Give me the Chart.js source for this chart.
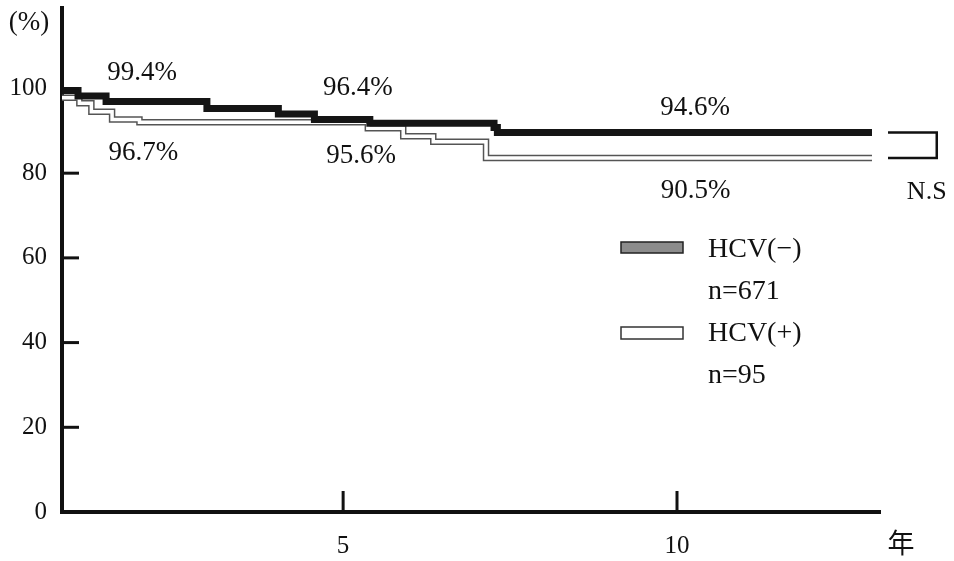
<!DOCTYPE html>
<html>
<head>
<meta charset="utf-8">
<script src="https://cdn.jsdelivr.net/npm/chart.js@4"></script>
<style>
  html, body { margin: 0; padding: 0; background: #fff; }
  #wrap { width: 954px; height: 561px; }
</style>
</head>
<body>
<div id="wrap"><canvas id="grafik" width="954" height="561"></canvas></div>
<script>
// survival curves (year, %)
const negTimes = [0.79, 1.03, 1.45, 2.96, 4.03, 4.57, 5.40, 7.26, 7.31, 12.92];
const negSurv  = [99.5, 98.2, 96.9, 95.3, 94.0, 92.7, 91.8, 90.8, 89.6, 89.6];
const posTimes = [0.79, 1.05, 1.23, 1.54, 1.95, 5.37, 5.90, 6.35, 7.14, 12.92];
const posSurv  = [97.8, 96.5, 94.5, 92.7, 92.0, 90.6, 88.7, 87.4, 83.6, 83.6];

const yTicks = [0, 20, 40, 60, 80, 100];
const xTicks = [5, 10];

const rateLabels = ['99.4%', '96.7%', '96.4%', '95.6%', '94.6%', '90.5%'];
const rateAt = [[1.99, 103.9], [2.01, 85.0], [5.22, 100.4], [5.27, 84.3], [10.27, 95.6], [10.28, 76.0]];

const serif = '"Liberation Serif", "DejaVu Serif", serif';

function pts(xs, ys) {
  return xs.map((x, i) => ({ x: x, y: ys[i] }));
}

// tick marks drawn inward + texts, bracket and legend
const extras = {
  id: 'extras',
  afterDraw(chart) {
    const ctx = chart.ctx;
    const xs = chart.scales.x, ys = chart.scales.y;
    const area = chart.chartArea;
    ctx.save();
    ctx.strokeStyle = '#111';
    ctx.lineWidth = 3;
    yTicks.forEach(v => {
      if (v === 0) return;
      const py = ys.getPixelForValue(v);
      ctx.beginPath(); ctx.moveTo(area.left, py); ctx.lineTo(area.left + 17, py); ctx.stroke();
    });
    xTicks.forEach(v => {
      const px = xs.getPixelForValue(v);
      ctx.beginPath(); ctx.moveTo(px, area.bottom); ctx.lineTo(px, area.bottom - 21); ctx.stroke();
    });

    ctx.fillStyle = '#111';
    ctx.textAlign = 'center';
    ctx.textBaseline = 'middle';
    ctx.font = '27px ' + serif;
    rateLabels.forEach((t, i) => {
      ctx.fillText(t, xs.getPixelForValue(rateAt[i][0]), ys.getPixelForValue(rateAt[i][1]) + 1);
    });
    ctx.font = '26px ' + serif;
    ctx.fillText('N.S', xs.getPixelForValue(13.74), ys.getPixelForValue(75.8) + 1);

    // bracket between curve ends
    const b1 = ys.getPixelForValue(negSurv[negSurv.length - 1]);
    const b2 = ys.getPixelForValue(posSurv[posSurv.length - 1]);
    const bx1 = xs.getPixelForValue(13.16), bx2 = xs.getPixelForValue(13.89);
    ctx.lineWidth = 2.5;
    ctx.beginPath();
    ctx.moveTo(bx1, b1); ctx.lineTo(bx2, b1); ctx.lineTo(bx2, b2); ctx.lineTo(bx1, b2);
    ctx.stroke();

    // "(%)" and "年"
    ctx.font = '27px ' + serif;
    ctx.fillText('(%)', 29, 23);
    ctx.font = '27px "Noto Sans CJK JP", sans-serif';
    ctx.fillText('年', 901, 543);

    // legend
    ctx.lineWidth = 1.5;
    ctx.fillStyle = '#8c8c8c';
    ctx.strokeStyle = '#222';
    ctx.fillRect(621, 242, 62, 11);
    ctx.strokeRect(621, 242, 62, 11);
    ctx.fillStyle = '#fff';
    ctx.strokeStyle = '#333';
    ctx.fillRect(621, 327, 62, 12);
    ctx.strokeRect(621, 327, 62, 12);
    ctx.fillStyle = '#111';
    ctx.textAlign = 'left';
    ctx.font = '28px ' + serif;
    ctx.fillText('HCV(−)', 708, 250);
    ctx.fillText('n=671', 708, 292);
    ctx.fillText('HCV(+)', 708, 334);
    ctx.fillText('n=95', 708, 376);
    ctx.restore();
  }
};

const ctx = document.getElementById('grafik').getContext('2d');
new Chart(ctx, {
  type: 'line',
  data: {
    datasets: [
      {
        label: 'HCV(−)',
        data: pts(negTimes, negSurv),
        borderColor: '#151515',
        borderWidth: 7,
        stepped: true,
        pointRadius: 0,
        borderJoinStyle: 'miter',
        order: 0
      },
      {
        label: 'HCV(+) inner',
        data: pts(posTimes, posSurv),
        borderColor: '#ffffff',
        borderWidth: 3.5,
        stepped: true,
        pointRadius: 0,
        borderJoinStyle: 'miter',
        order: 1
      },
      {
        label: 'HCV(+)',
        data: pts(posTimes, posSurv),
        borderColor: '#555555',
        borderWidth: 6.5,
        stepped: true,
        pointRadius: 0,
        borderJoinStyle: 'miter',
        order: 2
      }
    ]
  },
  options: {
    responsive: false,
    animation: false,
    layout: { padding: { top: 8, right: 74, left: 0, bottom: 0 } },
    plugins: { legend: { display: false }, tooltip: { enabled: false } },
    scales: {
      x: {
        type: 'linear',
        min: 0.79,
        max: 13.04,
        afterBuildTicks: s => { s.ticks = xTicks.map(v => ({ value: v })); },
        afterFit: s => { s.height = 49; s.paddingLeft = 0; s.paddingRight = 0; },
        grid: { display: false, drawTicks: false },
        border: { display: true, color: '#111', width: 4 },
        ticks: { color: '#111', padding: 19, font: { family: serif, size: 25 } }
      },
      y: {
        min: 0,
        max: 119,
        afterBuildTicks: s => { s.ticks = yTicks.map(v => ({ value: v })); },
        afterFit: s => { s.width = 62; s.paddingTop = 0; s.paddingBottom = 0; },
        grid: { display: false, drawTicks: false },
        border: { display: true, color: '#111', width: 4 },
        ticks: { color: '#111', padding: 15, font: { family: serif, size: 25 } }
      }
    }
  },
  plugins: [extras]
});
</script>
</body>
</html>
